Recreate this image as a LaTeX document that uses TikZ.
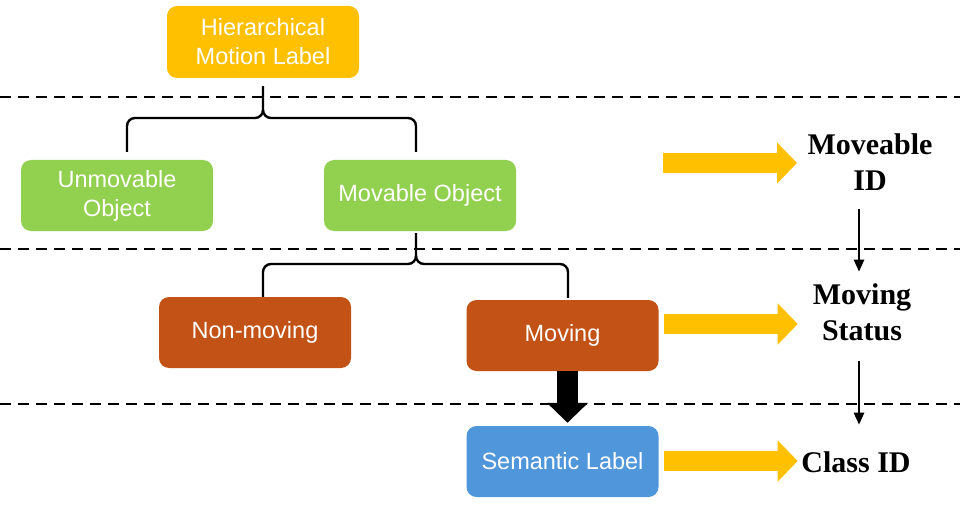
\documentclass[tikz,border=0pt]{standalone}
\usepackage{fontspec}
\setmainfont{Liberation Serif}
\setsansfont{Liberation Sans}
\usetikzlibrary{arrows.meta}

\definecolor{gold}{HTML}{FFC000}
\definecolor{leaf}{HTML}{92D050}
\definecolor{rust}{HTML}{C25215}
\definecolor{sky}{HTML}{5096DA}

\begin{document}
\begin{tikzpicture}[x=1pt, y=1pt,
    box/.style={rounded corners=10pt, minimum width=192pt, minimum height=71pt,
        inner sep=0pt, align=center, text=white,
        font=\sffamily\fontsize{23.5}{29}\selectfont},
    tag/.style={inner sep=0pt, align=center, font=\bfseries\fontsize{30}{36}\selectfont},
    sep/.style={line width=2.8pt, dash pattern=on 11pt off 7pt},
    brace/.style={line width=2.4pt},
    fat/.style={gold, line width=20pt, -{Triangle[width=40pt,length=20pt]}},
    heavy/.style={black, line width=21pt, -{Triangle[width=40pt,length=20pt]}},
    thinarr/.style={line width=2.4pt, -{Triangle[width=10pt,length=12pt]}}]
    \useasboundingbox (0,0) rectangle (960,504);

    % Level separators
    \draw[sep] (0,407) -- (960,407);
    \draw[sep] (0,255) -- (960,255);
    \draw[sep] (0,100) -- (960,100);

    % Label boxes
    \node[box, fill=gold, minimum height=72pt] (hier) at (263,462) {Hierarchical\\Motion Label};
    \node[box, fill=leaf] (unmov) at (117,308.5) {Unmovable\\Object};
    \node[box, fill=leaf] (mov) at (420,308.5) {Movable Object};
    \node[box, fill=rust] (still) at (255,171.5) {Non-moving};
    \node[box, fill=rust] (moving) at (562.5,168.5) {Moving};
    \node[box, fill=sky] (sem) at (562.5,42.5) {Semantic Label};

    % Output tags
    \node[tag] (movid) at (870,341.5) {Moveable\\ID};
    \node[tag] (movst) at (862,191.5) {Moving\\Status};
    \node[tag] (clsid) at (856,41.5) {Class ID};
    \coordinate (col) at (859,0);
    \coordinate (ystart) at (663,341);

    % First split
    \draw[brace] ([shift={(10pt,8pt)}]unmov.north) -- (127,378) to[out=90,in=180] (135,386)
        -- (255,386) to[out=0,in=-90] (263,394) -- ([yshift=-8pt]hier.south);
    \draw[brace] (263,394) to[out=-90,in=180] (271,386) -- (408,386)
        to[out=0,in=90] (416,378) -- ([shift={(-4pt,8pt)}]mov.north);

    % Second split
    \draw[brace] ([xshift=8pt]still.north) -- (263,232) to[out=90,in=180] (271,240)
        -- (408,240) to[out=0,in=-90] (416,248) -- ([shift={(-4pt,-2pt)}]mov.south);
    \draw[brace] (416,248) to[out=-90,in=180] (424,240) -- (560,240)
        to[out=0,in=90] (568,232) -- ([shift={(5.5pt,2pt)}]moving.north);

    % Moving to semantic
    \draw[heavy] ([xshift=5pt]moving.south) -- ([shift={(5pt,3pt)}]sem.north);

    % Yellow arrows
    \draw[fat] (ystart) -- ++(134pt,0);
    \draw[fat] ([shift={(5pt,11.5pt)}]moving.east) -- ++(134pt,0);
    \draw[fat] ([shift={(5pt,0.5pt)}]sem.east) -- ++(134pt,0);

    % Tag chain
    \draw[thinarr, shorten <=18pt, shorten >=12pt] (movid.south -| col) -- (movst.north -| col);
    \draw[thinarr, shorten <=20pt, shorten >=27pt] (movst.south -| col) -- (clsid.north -| col);
\end{tikzpicture}
\end{document}
